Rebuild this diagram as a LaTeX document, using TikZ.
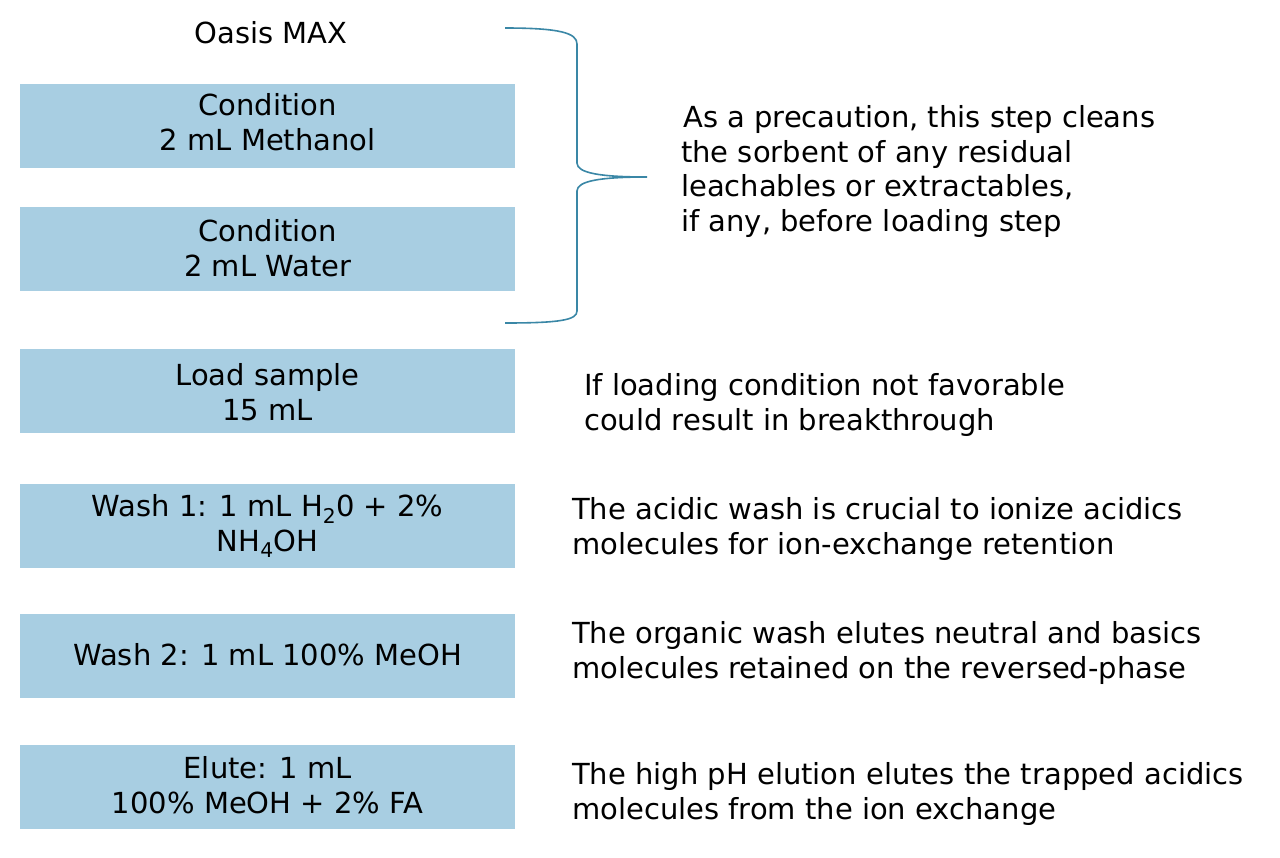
\documentclass[tikz,border=0pt]{standalone}
\usepackage{fontspec}
\setmainfont{DejaVu Sans}
\definecolor{boxblue}{HTML}{A8CEE2}
\definecolor{bracecol}{HTML}{3A87A6}
\begin{document}
\begin{tikzpicture}[x=1pt,y=-1pt,
  every node/.style={font=\fontsize{29}{34.5}\selectfont, text=black},
  stepbox/.style={fill=boxblue, draw=none, minimum width=495pt, minimum height=84pt, inner sep=0pt, align=center, anchor=north west},
  boxtext/.style={inner sep=0pt, align=center},
  note/.style={anchor=west, align=left, inner sep=0pt},
  bracestyle/.style={draw=bracecol, line width=1.6pt}]
\useasboundingbox (0,0) rectangle (1280,857);
\fill[white] (0,0) rectangle (1280,857);
\node (title) at (271,33) {Oasis MAX};
\node[stepbox] (s1) at (20,84) {};
\node[stepbox] (s2) at (20,207) {};
\node[stepbox] (s3) at (20,349) {};
\node[stepbox] (s4) at (20,484) {};
\node[stepbox] (s5) at (20,614) {};
\node[stepbox] (s6) at (20,745) {};
\node[boxtext] (t1) at ([yshift=4pt]s1.center) {Condition\\2 mL Methanol};
\node[boxtext] (t2) at ([yshift=1pt]s2.center) {Condition\\2 mL Water};
\node[boxtext] (t3) at ([yshift=-1pt]s3.center) {Load sample\\15 mL};
\node[boxtext] (t4) at ([yshift=0pt]s4.center) {Wash 1: 1 mL H\textsubscript{2}0 + 2\%\\NH\textsubscript{4}OH};
\node[boxtext] (t5) at ([yshift=2pt]s5.center) {Wash 2: 1 mL 100\% MeOH};
\node[boxtext] (t6) at ([yshift=2pt]s6.center) {Elute: 1 mL\\100\% MeOH + 2\% FA};
\coordinate (btop) at (505,28);
\coordinate (btip) at (647,177);
\coordinate (bbot) at (505,323);
\draw[bracestyle] (btop) .. controls (560,28) and (577,33) .. (577,44) -- (577,163)
  .. controls (577,173) and (600,177) .. (btip)
  .. controls (600,177) and (577,181) .. (577,191) -- (577,311)
  .. controls (577,320) and (560,323) .. (bbot);
\node[note] (n1) at (681,171.5) {\hspace{2pt}As a precaution, this step cleans\\the sorbent of any residual\\leachables or extractables,\\if any, before loading step};
\node[note] (n2) at (584,405) {If loading condition not favorable\\could result in breakthrough};
\node[note] (n3) at (572,529) {The acidic wash is crucial to ionize acidics\\molecules for ion-exchange retention};
\node[note] (n4) at (572,653) {The organic wash elutes neutral and basics\\molecules retained on the reversed-phase};
\node[note] (n5) at (572,794) {The high pH elution elutes the trapped acidics\\molecules from the ion exchange};
\end{tikzpicture}
\end{document}
